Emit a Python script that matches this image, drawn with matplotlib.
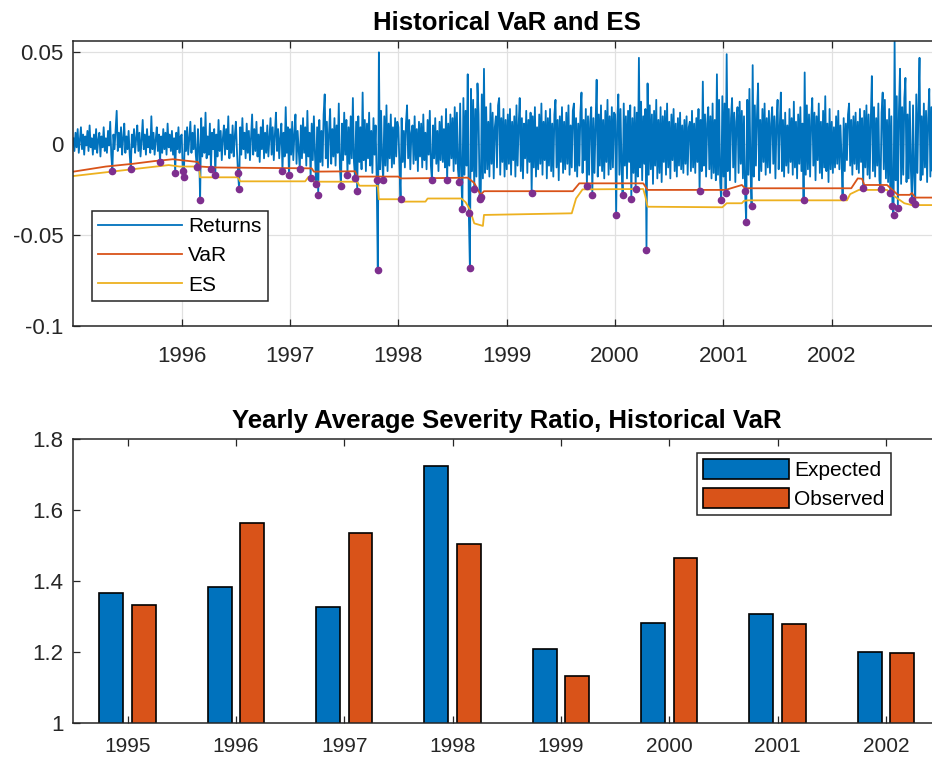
import numpy as np
import matplotlib
matplotlib.use("Agg")
import matplotlib.pyplot as plt

plt.rcParams['font.family'] = ['Liberation Sans', 'DejaVu Sans']
plt.rcParams['axes.unicode_minus'] = False

# daily returns, 100 observations per year, in units of 0.001
ret_1995 = [3, -4, 6, -2, 8, -5, 2, 9, -3, 5, -6, 4, -1, 7, -4, 10, -2, 3, -6, 5,
            -3, 8, -5, 2, 6, -7, 4, -2, 9, -4, 3, -5, 7, -1, 12, -6, -15, 5, -3, 8,
            18, -4, 6, -2, 9, -6, 3, 11, -5, 4, -3, 7, -6, -14, 5, -2, 8, -5, 3, 10,
            -4, 6, -7, 2, 13, -3, 5, -6, 8, -2, 4, -5, 15, -3, 6, -6, 2, 9, -4, 5,
            -10, 4, -5, 8, -3, 6, -6, 11, -2, 5, -4, 7, -6, 3, -16, 6, -3, 9, -5, 4]
ret_1996 = [5, -15, -18, 7, -4, 9, -6, 3, 12, -5, 6, -3, 10, -6, -13, 8, -2, -31, 14, -7,
            9, -5, 17, -8, 4, -6, 11, -14, 6, -3, 8, -17, 5, -7, 13, -4, 7, -9, 3, 10,
            -6, 8, -3, 15, -8, 5, -5, 10, -7, 4, 12, -4, -16, -25, 9, -6, 14, -3, 6, -8,
            11, -5, 7, -9, 3, 16, -6, 8, -4, 12, -7, 5, -10, 9, -3, 13, -8, 6, -5, 10,
            -7, 4, 14, -6, 9, -9, 5, 17, -4, 8, -8, 3, 11, -15, 6, -7, 20, -5, 9, -17]
ret_1997 = [8, -6, 12, -9, 5, 16, -11, 7, -4, -14, 10, -8, 14, -5, 9, -12, 18, -7, 6, -19,
            11, -9, 15, -6, -22, 9, -28, 13, -10, 7, -12, 16, 27, -8, 12, -13, 6, 19, -11, 8,
            -7, 14, -12, 10, -5, 22, -13, -23, 11, -9, 17, -6, 13, -17, 9, -11, 15, -8, 25, -10,
            -19, 12, -26, 15, -10, 9, -14, 28, -9, 13, -15, 11, -8, 17, -12, 7, -16, 14, -6, 10,
            -20, -69, 50, -14, 18, -9, -20, 15, -12, 21, -15, 11, -8, 16, -13, 9, -11, 14, -7, 12]
ret_1998 = [9, -12, -30, 14, -10, 7, -13, 11, 21, -8, 13, -14, 6, 10, -11, 15, -9, 8, -15, 12,
            -7, 11, -13, 16, -9, 6, -14, 13, -6, 18, -12, -20, 10, -8, 14, -11, 7, -15, 12, -9,
            15, -10, 8, -13, 19, -20, 11, -12, 16, -8, 14, -15, 20, -11, 17, -14, -21, 22, -16, -36,
            25, -17, 18, -12, 38, -38, -68, 30, -15, 24, -25, 19, -18, 33, 16, -30, -29, 27, -19, 41,
            -16, 20, -14, 12, -18, 22, -11, 17, -19, 9, 15, -13, 21, 25, -17, 14, -10, 19, -18, 13]
ret_1999 = [-14, 16, -11, 19, -17, 12, -9, 15, -18, 21, -12, 10, 25, -15, 14, -19, 11, -8, 18, -16,
            13, -10, 17, -27, 15, -13, 20, -18, 9, -14, 16, -11, 22, -17, 12, -9, 18, -19, 14, -12,
            19, -15, 11, -18, 16, 24, -13, 13, -20, 15, -10, 20, -16, 12, -14, 17, -11, 21, -17, 10,
            -13, 18, 22, -15, 14, -18, 11, -12, 17, 28, -16, 13, -9, 19, -23, 15, -17, 12, 20, -28,
            14, -16, 11, 35, -18, 16, -12, 21, -15, 13, -19, 18, -10, 24, -17, 15, -14, 20, -13, 17]
ret_2000 = [16, -39, 12, 27, -17, 19, -14, -28, 22, -12, 15, -19, 18, -10, 21, -30, 14, -16, 20, -25,
            17, -18, 47, -13, 23, -20, 15, -11, 19, -58, 33, -17, 21, -14, 16, -22, 18, -12, 24, -19,
            13, -16, 20, -21, 15, -10, 18, -17, 22, -13, 12, -19, 16, -9, 19, -15, 11, -18, 14, -12,
            17, -14, 10, -16, 13, -11, 15, -17, 9, 12, -15, 18, -13, 11, -16, 14, -10, 19, -26, 13,
            -15, 34, -12, 16, -18, 11, 20, -14, 15, -19, 22, -16, 13, -20, 38, -17, 24, -21, -31, 26]
ret_2001 = [-18, 22, -27, 49, -15, 19, -20, 14, 25, -13, 17, -21, 12, 20, -16, 23, -11, 18, -19, 15,
            -26, -43, 24, -17, 30, -14, -34, 43, -18, 21, -12, 16, 33, -20, 13, -15, 19, -10, 22, -17,
            14, -13, 18, -16, 11, 20, -11, 15, -19, 12, 24, -14, 9, 28, -15, 13, -18, 17, -12, 10,
            -16, 19, -10, 14, -17, 23, -13, 12, -19, 16, -11, 20, -15, 11, -31, 39, -17, 21, -14, 16,
            -18, 13, 25, -12, 17, -20, 15, -9, 22, -16, 12, -19, 18, -13, 26, -15, 11, -21, 19, -14]
ret_2002 = [12, -16, 9, -13, 15, -11, 18, -14, 10, -8, -29, 14, -15, 11, -9, 16, 22, -12, 13, -17,
            15, -11, 17, -14, 12, -16, 19, -10, 14, -24, 18, -13, 21, -17, 16, -19, 13, 37, -15, 20,
            -18, 14, -12, 22, -20, -25, 17, 28, -14, 24, -19, 13, -21, 19, -27, 15, -34, -39, 56, -20,
            26, -35, 18, 41, -22, 20, -17, 25, 36, -21, 16, -19, 23, -14, -31, 21, -18, -33, 27, -16,
            19, 47, -20, 15, -17, 22, -13, 18, -21, 14, 30, -18, 20, -15, 24, -12, 17, -19, 13, -10]

# rolling historical VaR and ES (decimal year, level)
var_years = [1995.00, 1995.30, 1995.55, 1995.75, 1995.92, 1996.02, 1996.15, 1996.17, 1996.30, 1997.20,
             1997.22, 1997.60, 1997.62, 1998.00, 1998.02, 1998.40, 1998.64, 1998.70, 1998.76, 1998.79,
             1999.61, 1999.67, 2000.26, 2000.30, 2000.76, 2000.78, 2000.80, 2001.02, 2001.17, 2001.20,
             2002.18, 2002.24, 2002.28, 2002.30, 2002.51, 2002.61, 2002.72, 2002.74, 2002.77, 2003.00]
var_levels = [-0.0153, -0.0125, -0.0110, -0.0095, -0.0085, -0.0092, -0.0100, -0.0125, -0.0130, -0.0135,
              -0.0153, -0.0151, -0.0180, -0.0180, -0.0190, -0.0188, -0.0186, -0.0215, -0.0280, -0.0260,
              -0.0260, -0.0217, -0.0217, -0.0253, -0.0253, -0.0245, -0.0253, -0.0253, -0.0226, -0.0244,
              -0.0244, -0.0190, -0.0192, -0.0226, -0.0226, -0.0280, -0.0280, -0.0270, -0.0295, -0.0295]
es_years = [1995.00, 1995.88, 1995.98, 1996.16, 1996.17, 1996.52, 1996.54, 1997.14, 1997.17, 1997.19,
            1997.22, 1997.62, 1997.64, 1997.81, 1997.82, 1998.02, 1998.04, 1998.25, 1998.27, 1998.58,
            1998.62, 1998.66, 1998.70, 1998.78, 1998.79, 1999.60, 1999.64, 1999.70, 2000.26, 2000.28,
            2000.30, 2000.99, 2001.03, 2001.17, 2001.19, 2001.23, 2002.14, 2002.17, 2002.25, 2002.51,
            2002.56, 2002.67, 2002.74, 2003.00]
es_levels = [-0.0177, -0.0117, -0.0125, -0.0125, -0.0184, -0.0184, -0.0206, -0.0206, -0.0182, -0.0182,
             -0.0208, -0.0208, -0.0230, -0.0230, -0.0304, -0.0304, -0.0317, -0.0317, -0.0300, -0.0300,
             -0.0320, -0.0360, -0.0436, -0.0450, -0.0390, -0.0381, -0.0300, -0.0250, -0.0248, -0.0290,
             -0.0345, -0.0348, -0.0326, -0.0326, -0.0313, -0.0310, -0.0310, -0.0276, -0.0253, -0.0253,
             -0.0280, -0.0326, -0.0336, -0.0336]

# yearly average severity ratio
years = ['1995', '1996', '1997', '1998', '1999', '2000', '2001', '2002']
expected = [1.366, 1.383, 1.326, 1.725, 1.208, 1.281, 1.308, 1.201]
observed = [1.332, 1.563, 1.535, 1.505, 1.134, 1.466, 1.280, 1.197]

blue = '#0072BD'
orange = '#D95319'
yellow = '#EDB120'
purple = '#7E2F8E'
dark = '#262626'


def style_axes(ax):
    for s in ax.spines.values():
        s.set_color(dark)
        s.set_linewidth(1.1)
    ax.tick_params(direction='in', top=True, right=True, length=5, width=0.9,
                   colors=dark, labelsize=16, labelcolor=dark)


def main():
    returns = np.concatenate([ret_1995, ret_1996, ret_1997, ret_1998,
                              ret_1999, ret_2000, ret_2001, ret_2002]) / 1000.0
    dates = 1995 + np.arange(len(returns)) / 100.0
    var_now = np.interp(dates, var_years, var_levels)
    hit = returns < var_now

    fig = plt.figure(figsize=(9.32, 7.61), dpi=100)

    ax1 = fig.add_axes([0.0787, 0.5711, 0.93, 0.375])
    ax1.plot(dates, returns, color=blue, lw=1.3, label='Returns')
    ax1.plot(var_years, var_levels, color=orange, lw=1.3, label='VaR')
    ax1.plot(es_years, es_levels, color=yellow, lw=1.3, label='ES')
    ax1.plot(dates[hit], returns[hit], 'o', color=purple, ms=4.5, mec=purple)
    ax1.set_xlim(1995, 2003)
    ax1.set_ylim(-0.1, 0.0562)
    ax1.set_xticks(range(1996, 2003))
    ax1.set_xticklabels([str(y) for y in range(1996, 2003)])
    ax1.set_yticks([-0.1, -0.05, 0, 0.05])
    ax1.set_yticklabels(['-0.1', '-0.05', '0', '0.05'])
    ax1.grid(True, color='#e0e0e0', lw=0.9)
    ax1.set_axisbelow(True)
    style_axes(ax1)
    ax1.tick_params(axis='x', pad=14)
    ax1.tick_params(axis='y', pad=7)
    ax1.set_title('Historical VaR and ES', fontsize=18.5, fontweight='bold', pad=8)
    leg = ax1.legend(loc='lower left', bbox_to_anchor=(0.0216, 0.089), borderaxespad=0,
                     fontsize=15, handlelength=4.0, handletextpad=0.3, labelspacing=0.5,
                     fancybox=False, framealpha=1, edgecolor=dark, borderpad=0.3)
    leg.get_frame().set_linewidth(1.1)

    ax2 = fig.add_axes([0.0787, 0.0495, 0.93, 0.3736])
    x = np.arange(1, len(years) + 1)
    ax2.bar(x - 0.15, expected, 0.22, bottom=0, color=blue, edgecolor='black', lw=1.2, label='Expected')
    ax2.bar(x + 0.15, observed, 0.22, bottom=0, color=orange, edgecolor='black', lw=1.2, label='Observed')
    ax2.set_xlim(0.5, 8.5)
    ax2.set_ylim(1, 1.8)
    ax2.set_xticks(x)
    ax2.set_xticklabels(years)
    ax2.set_yticks([1, 1.2, 1.4, 1.6, 1.8])
    ax2.set_yticklabels(['1', '1.2', '1.4', '1.6', '1.8'])
    style_axes(ax2)
    ax2.tick_params(axis='x', pad=10, labelsize=15)
    ax2.tick_params(axis='y', pad=7)
    ax2.set_title('Yearly Average Severity Ratio, Historical VaR', fontsize=18.5,
                  fontweight='bold', pad=8)
    leg2 = ax2.legend(loc='upper right', bbox_to_anchor=(0.943, 0.951), borderaxespad=0,
                      fontsize=15, handlelength=4.1, handleheight=1.05, handletextpad=0.25,
                      labelspacing=0.4, fancybox=False, framealpha=1, edgecolor=dark,
                      borderpad=0.3)
    leg2.get_frame().set_linewidth(1.1)

    fig.savefig('out.png', dpi=100)


if __name__ == '__main__':
    main()
